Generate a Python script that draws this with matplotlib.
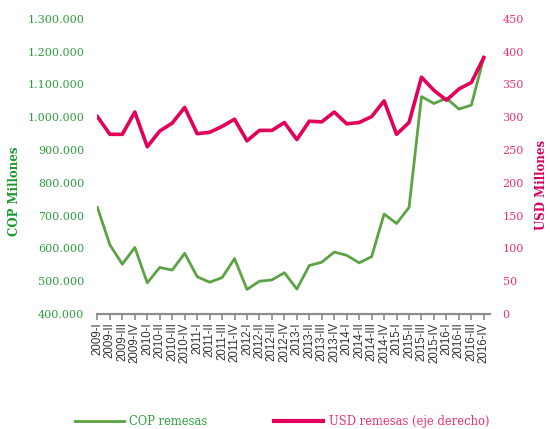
import matplotlib.pyplot as plt
from matplotlib.ticker import FuncFormatter
from matplotlib.lines import Line2D

# Trimestres 2009-I a 2016-IV
quarters = [f"{y}-{q}" for y in range(2009, 2017) for q in ["I", "II", "III", "IV"]]

# Remesas en COP millones (eje izquierdo)
cop_remesas = [
    725000, 611000, 552000, 603000, 495000, 542000, 534000, 585000,
    514000, 497000, 511000, 569000, 475000, 500000, 504000, 526000,
    476000, 548000, 558000, 589000, 579000, 556000, 575000, 705000,
    676000, 725000, 1063000, 1042000, 1058000, 1025000, 1037000, 1183000,
]

# Remesas en USD millones (eje derecho)
usd_remesas = [
    301, 274, 274, 308, 255, 279, 291, 315,
    275, 277, 286, 297, 264, 280, 280, 292,
    266, 294, 293, 308, 290, 292, 301, 325,
    274, 292, 361, 341, 326, 343, 353, 391,
]

green = "#5BA344"
green_txt = "#2E9E3E"
pink = "#E2005A"
pink_txt = "#E8336F"

plt.rcParams["font.family"] = ["DejaVu Serif"]

fig = plt.figure(figsize=(5.5, 4.29), dpi=100)
ax = fig.add_axes([0.176, 0.268, 0.715, 0.688])
ax2 = ax.twinx()

x = range(len(quarters))
ax.plot(x, cop_remesas, color=green, lw=2, zorder=2)
ax2.plot(x, usd_remesas, color=pink, lw=2.6, zorder=3)

ax.set_ylim(400000, 1300000)
ax.set_yticks(range(400000, 1300001, 100000))
ax.yaxis.set_major_formatter(FuncFormatter(lambda v, p: f"{int(v):,}".replace(",", ".")))
ax2.set_ylim(0, 450)
ax2.set_yticks(range(0, 451, 50))
ax.set_xlim(-0.05, 31.5)

for a in (ax, ax2):
    for s in ("top", "left", "right"):
        a.spines[s].set_visible(False)
    a.spines["bottom"].set_color("#8C8C8C")
    a.spines["bottom"].set_linewidth(1.5)

ax.tick_params(axis="y", length=0, pad=9, labelsize=8, labelcolor=green_txt)
ax2.tick_params(axis="y", length=0, pad=9, labelsize=8, labelcolor=pink_txt)
ax.set_xticks(list(x))
ax.set_xticklabels(quarters, rotation=90, fontsize=8.3, family="Liberation Sans", color="#333333")
ax.tick_params(axis="x", length=4, width=1.2, color="#8C8C8C", pad=2)

fig.text(0.027, 0.555, "COP Millones", rotation=90, ha="center", va="center",
         fontsize=8.5, fontweight="bold", color="#1E9A2E")
fig.text(0.984, 0.57, "USD Millones", rotation=90, ha="center", va="center",
         fontsize=8.5, fontweight="bold", color="#D6005F")

handles = [Line2D([], [], color=green, lw=2), Line2D([], [], color=pink, lw=3)]
leg = fig.legend(handles, ["COP remesas", "USD remesas (eje derecho)"],
                 loc="center", bbox_to_anchor=(0.513, 0.018), ncol=2, frameon=False,
                 fontsize=8.3, handlelength=4.2, handletextpad=0.5, columnspacing=5.8)
leg.get_texts()[0].set_color(green_txt)
leg.get_texts()[1].set_color(pink_txt)

fig.savefig("out.png", dpi=100)
